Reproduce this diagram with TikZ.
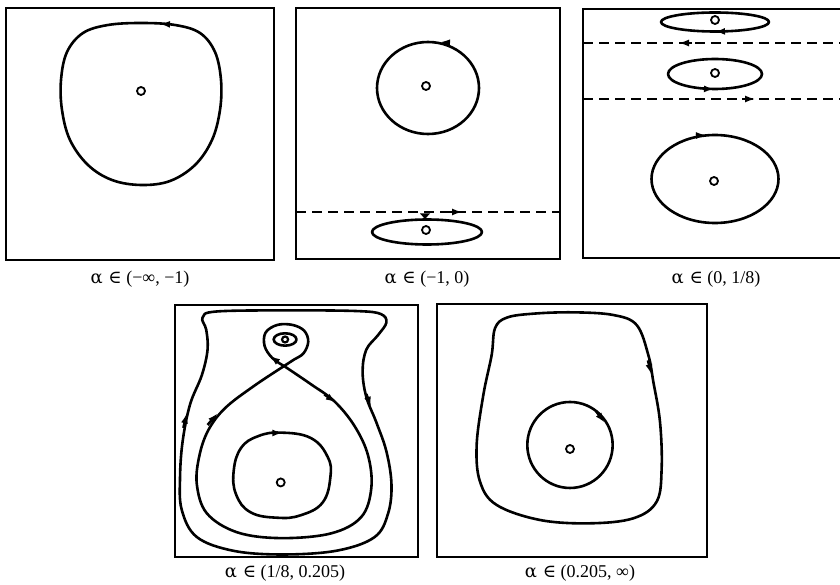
\documentclass[tikz,border=0pt]{standalone}
\usepackage{fontspec}
\setmainfont{Liberation Serif}
\newfontfamily\symf{DejaVu Serif}
\usetikzlibrary{arrows.meta}
\begin{document}
\begin{tikzpicture}[x=1pt,y=-1pt,
  box/.style={line width=1.3pt},
  orbit/.style={line width=2.6pt, line join=round},
  sep/.style={line width=1.5pt, dash pattern=on 10pt off 6pt},
  eq/.style={circle, draw, line width=1.8pt, minimum size=8pt, inner sep=0pt, fill=white},
  tip/.style={-{Latex[length=10pt,width=7pt]}, line width=2.6pt},
  lab/.style={font=\fontsize{18}{21}\selectfont, inner sep=0pt}
]
\useasboundingbox (0,0) rectangle (840,585);

% ---------- panel 1 ----------
\draw[box] (6,8) rectangle (274,260);
\draw[orbit] plot[smooth cycle, tension=0.6] coordinates {(141,23) (175,25) (200,33) (215,52) (221,80) (220,110) (212,140) (195,165) (170,181) (141,185) (112,180) (88,165) (70,140) (62,110) (61,80) (67,52) (83,33) (108,25)};
\draw[tip] (168,24.3) -- (160,23.9);
\node[eq] (e1) at (141,91) {};
\node[lab] (l1) at (140,279) {{\symf α ∈} (−∞, −1)};

% ---------- panel 2 ----------
\draw[box] (296,8) rectangle (560,259);
\draw[orbit] (428,88) ellipse [x radius=51, y radius=46];
\draw[tip] (448,42.6) -- (440,42.1);
\node[eq] (e2a) at (426,86) {};
\draw[sep] (296,212) -- (560,212);
\draw[tip, line width=1.5pt] (450,212) -- (462,212);
\draw[orbit] (427,232) ellipse [x radius=55, y radius=12.5];
\fill (420,213.5) -- (430,213.5) -- (425,219) -- cycle;
\draw[line width=1.8pt] (425,216) -- (425,220);
\node[eq] (e2b) at (426,230) {};
\node[lab] (l2) at (427,279) {{\symf α ∈} (−1, 0)};

% ---------- panel 3 ----------
\draw[box] (842,9) -- (583,9) -- (583,258) -- (842,258);
\draw[orbit] (715,22) ellipse [x radius=54, y radius=9.5];
\draw[tip] (724,31.4) -- (715,31.5);
\node[eq] (e3a) at (715,20) {};
\draw[sep] (583,43) -- (840,43);
\draw[tip, line width=1.5pt] (692,43) -- (679,43);
\draw[orbit] (715,74) ellipse [x radius=47, y radius=15];
\draw[tip] (704,88.9) -- (714,89);
\node[eq] (e3b) at (715,73) {};
\draw[sep] (583,99) -- (840,99);
\draw[tip, line width=1.5pt] (742,99) -- (755,99);
\draw[orbit] (715,179) ellipse [x radius=63.5, y radius=44];
\draw[tip] (696,135.5) -- (706,135.1);
\node[eq] (e3c) at (714,181) {};
\node[lab] (l3) at (716,279) {{\symf α ∈} (0, 1/8)};

% ---------- panel 4 ----------
\draw[box] (175,305) rectangle (418,557);
\begin{scope}[shift={(169.97,295.09)}, xscale=0.3356, yscale=0.3638]
  \draw[orbit] plot[smooth cycle, tension=0.6] coordinates {(370,42) (560,44) (628,52) (645,75) (620,110) (585,150) (574,210) (585,280) (615,350) (645,430) (660,520) (650,600) (610,665) (500,702) (340,713) (190,703) (80,665) (35,590) (30,500) (38,400) (60,300) (95,220) (112,150) (108,95) (97,62) (140,45)};
  \draw[orbit] plot[smooth, tension=0.6] coordinates {(340,195) (420,245) (490,292) (550,360) (590,440) (600,530) (570,610) (480,655) (330,668) (200,652) (110,600) (80,520) (88,440) (115,370) (165,310) (250,250) (340,195)};
  \draw[orbit] plot[smooth, tension=0.6] coordinates {(340,195) (305,173) (282,140) (285,103) (320,82) (365,82) (400,98) (412,128) (398,160) (370,177) (340,195)};
  \draw[orbit] (343,122) ellipse [x radius=34, y radius=17];
  \draw[orbit] plot[smooth cycle, tension=0.7] coordinates {(330,378) (420,393) (470,445) (478,500) (455,570) (390,605) (320,612) (240,597) (197,548) (190,482) (212,420) (262,388)};
  \draw[tip] (305,379) -- (335,379);
  \draw[tip] (40,365) -- (50,325);
  \draw[tip] (585,272) -- (599,307);
  \draw[tip] (112,357) -- (142,325);
  \draw[tip] (460,273) -- (494,295);
  \draw[tip] (322,184) -- (298,167);
  \node[eq] (e4) at (330,515) {};
  \node[circle, draw, line width=2.2pt, minimum size=6pt, inner sep=0pt] (e4b) at (343,122) {};
\end{scope}
\node[lab] (l4) at (285,573) {{\symf α ∈} (1/8, 0.205)};

% ---------- panel 5 ----------
\draw[box] (437,304) rectangle (707,557);
\begin{scope}[shift={(440,295)}, scale=0.3333]
  \draw[orbit] plot[smooth cycle, tension=0.6] coordinates {(400,52) (520,60) (590,90) (625,180) (640,260) (660,380) (665,520) (650,620) (580,670) (450,685) (300,675) (170,630) (120,560) (110,450) (130,300) (155,180) (165,100) (200,68) (280,56)};
  \draw[orbit] (390,450) ellipse [x radius=128, y radius=129];
  \draw[tip] (468,348) -- (494,383);
  \draw[tip] (624,196) -- (634,238);
  \node[eq] (e5) at (390,462) {};
\end{scope}
\node[lab] (l5) at (580,573) {{\symf α ∈} (0.205, ∞)};
\end{tikzpicture}
\end{document}
